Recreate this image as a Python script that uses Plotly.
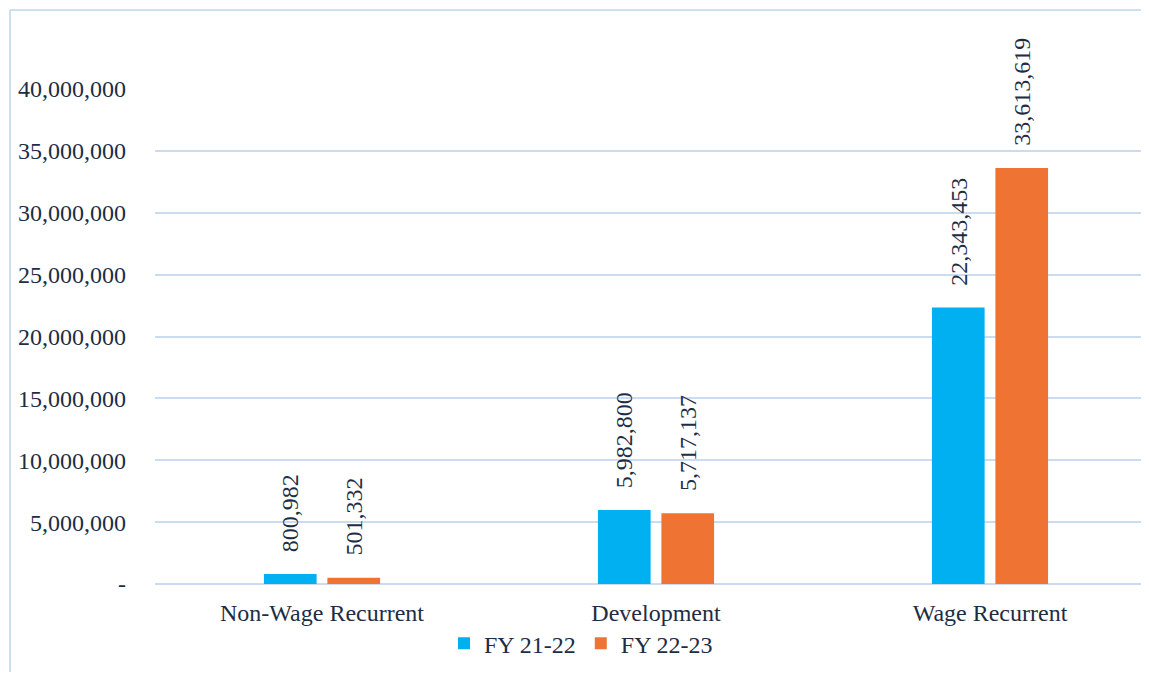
import plotly.graph_objects as go

categories = ["Non-Wage Recurrent", "Development", "Wage Recurrent"]
series_names = ["FY 21-22", "FY 22-23"]
fy2122 = [800982, 5982800, 22343453]
fy2223 = [501332, 5717137, 33613619]
tick_vals = [0, 5000000, 10000000, 15000000, 20000000, 25000000, 30000000, 35000000, 40000000]
tick_text = ["-", "5,000,000", "10,000,000", "15,000,000", "20,000,000", "25,000,000",
             "30,000,000", "35,000,000", "40,000,000"]

FONT = "Liberation Serif"
TXT = "#1d2d44"
colors = ["#00B0F0", "#EF7433"]

fig = go.Figure()
for name, vals, col in zip(series_names, [fy2122, fy2223], colors):
    fig.add_trace(go.Bar(name=name, x=categories, y=vals, marker=dict(color=col, line=dict(width=0))))

# page has an 8px body margin; keep the figure inside the window
OFF = 8
FW, FH = 1149 - 2 * OFF, 680 - 2 * OFF
L, TOP, BOT = 155, 89, 584
R = OFF + FW
pw = R - L
ph = BOT - TOP
ppu = 334.0
shift = 31.75
for vals, xs in zip([fy2122, fy2223], [-shift, shift]):
    for c, v in zip(categories, vals):
        fig.add_annotation(x=c, y=v, text=f"{v:,}", textangle=-90, showarrow=False,
                           yanchor="bottom", xanchor="center", xshift=xs, yshift=20,
                           font=dict(family=FONT, size=24, color=TXT))

# outer chart-area border (left and top edges visible in the crop)
bx0 = (10 - L) / pw
by1 = (BOT - 10) / ph
border = dict(color="#CFDFF2", width=2)
fig.add_shape(type="line", xref="paper", yref="paper", x0=bx0, x1=bx0,
              y0=-(BOT - 0) / ph * 0 - (700 - BOT) / ph, y1=by1, line=border, layer="below")
fig.add_shape(type="line", xref="paper", yref="paper", x0=bx0, x1=(1200 - L) / pw,
              y0=by1, y1=by1, line=border, layer="below")

fig.update_layout(
    width=FW, height=FH,
    margin=dict(l=L - OFF, r=0, t=TOP - OFF, b=OFF + FH - BOT),
    paper_bgcolor="white", plot_bgcolor="white",
    barmode="group", bargap=0.62, bargroupgap=0.17,
    font=dict(family=FONT, size=24, color=TXT),
    showlegend=True,
    legend=dict(orientation="h", x=(581 - L) / pw, xanchor="center", y=-0.075, yanchor="top",
                bgcolor="rgba(0,0,0,0)",
                font=dict(family=FONT, size=24, color=TXT), itemwidth=30),
    xaxis=dict(range=[-0.5, -0.5 + pw / ppu], showgrid=False, showline=False, ticks="",
               ticklabelstandoff=12, tickfont=dict(family=FONT, size=24, color=TXT)),
    yaxis=dict(range=[0, 40000000], tickvals=tick_vals, ticktext=tick_text,
               showgrid=True, gridcolor="#CCDCF0", gridwidth=2, zeroline=True,
               zerolinecolor="#CCDCF0", zerolinewidth=2, showline=False, ticks="",
               ticklabelstandoff=28, tickfont=dict(family=FONT, size=24, color=TXT)),
)

fig.write_html("out.html")
